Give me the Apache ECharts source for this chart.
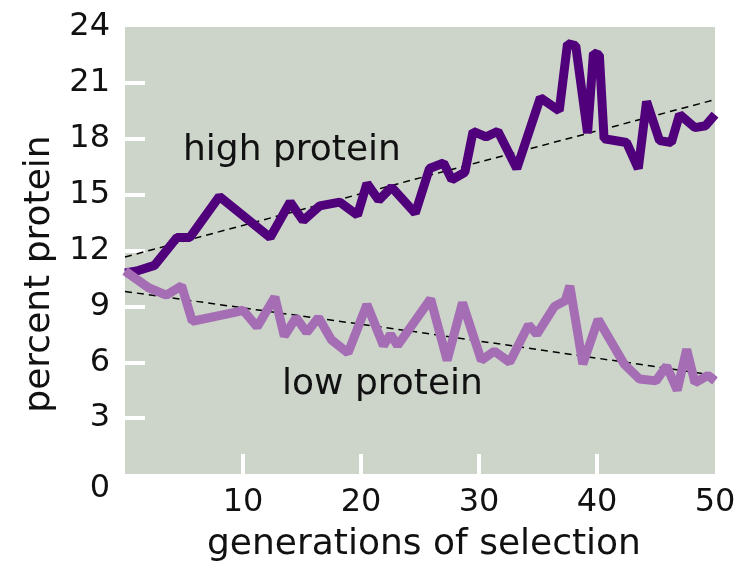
<!DOCTYPE html>
<html><head><meta charset="utf-8">
<script src="https://cdn.jsdelivr.net/npm/echarts@6/dist/echarts.min.js"></script>
<style>html,body{margin:0;padding:0;background:#fff}#c{width:741px;height:573px}</style>
</head><body><div id="c"></div>
<script>
// generations (x) and percent protein (y) at each visible vertex of the lines
const highGen = [0, 1, 2.5, 4.4, 5.5, 8, 12.3, 14, 15.1, 16.5, 18.2, 19.7, 20.5, 21.5, 22.6, 24.6, 25.8, 27, 27.7, 28.8, 29.5, 30.6, 31.6, 33.2, 35.2, 36.8, 37.5, 38.2, 39.2, 39.7, 40.2, 40.6, 42.5, 43.5, 44.2, 45.3, 46.3, 47, 48.3, 49.2, 50];
const highPct = [10.8, 10.9, 11.2, 12.7, 12.7, 14.9, 12.7, 14.6, 13.6, 14.4, 14.6, 13.9, 15.6, 14.7, 15.4, 14.0, 16.4, 16.7, 15.8, 16.2, 18.4, 18.1, 18.4, 16.4, 20.2, 19.5, 23.1, 23.0, 18.3, 22.6, 22.5, 18.0, 17.8, 16.4, 20.0, 17.9, 17.8, 19.3, 18.6, 18.7, 19.3];
const lowGen = [0, 2, 3.5, 4.8, 5.7, 9.5, 10, 11.2, 12.7, 13.5, 14.5, 15.4, 16.4, 17.5, 18.9, 20.5, 21.9, 22.5, 23.1, 25.9, 27.3, 28.6, 30.2, 31.3, 32.6, 34.2, 34.9, 36.4, 37.3, 37.7, 38.8, 40.1, 42.3, 43.6, 45, 45.9, 46.8, 47.6, 48.3, 49.4, 50];
const lowPct = [10.9, 10.0, 9.6, 10.1, 8.2, 8.7, 8.8, 7.9, 9.5, 7.4, 8.4, 7.6, 8.4, 7.2, 6.5, 9.1, 6.9, 7.5, 6.9, 9.4, 6.1, 9.2, 6.1, 6.6, 6.0, 8.0, 7.5, 9.0, 9.3, 10.1, 5.9, 8.3, 5.9, 5.1, 5.0, 5.8, 4.5, 6.7, 4.9, 5.3, 5.0];
// dashed trend lines
const highTrendGen = [0, 25, 50];
const highTrendPct = [11.65, 15.9, 20.1];
const lowTrendGen = [0, 25, 50];
const lowTrendPct = [9.8, 7.6, 5.3];
// ticks and labels
const yLabelValues = [0, 3, 6, 9, 12, 15, 18, 21, 24];
const yTickValues = [3, 6, 9, 12, 15, 18, 21];
const xLabelValues = [10, 20, 30, 40, 50];
const xTickValues = [10, 20, 30, 40];
const seriesNames = ['high protein', 'low protein'];
const xTitle = 'generations of selection';
const yTitle = 'percent protein';

const pairs = (xs, ys) => xs.map((x, i) => [x, ys[i]]);
const FONT = 'DejaVu Sans';
const tick = { show: true, inside: true, length: 20, lineStyle: { color: '#ffffff', width: 4 } };

const chart = echarts.init(document.getElementById('c'));
chart.setOption({
  animation: false,
  backgroundColor: '#ffffff',
  grid: { left: 125, top: 27, width: 590, height: 447, show: true, backgroundColor: '#cdd5cb', borderWidth: 0 },
  xAxis: [
    { type: 'value', min: 0, max: 50, position: 'bottom',
      axisLine: { show: false }, splitLine: { show: false },
      axisTick: Object.assign({ customValues: xTickValues }, tick),
      axisLabel: { customValues: xLabelValues, margin: 13, fontFamily: FONT, fontSize: 32, color: '#111' } },
    { type: 'value', min: 0, max: 50, position: 'top',
      axisLine: { show: false }, splitLine: { show: false },
      axisTick: Object.assign({ customValues: xTickValues }, tick),
      axisLabel: { show: false } }
  ],
  yAxis: [
    { type: 'value', min: 0, max: 24, position: 'left',
      axisLine: { show: false }, splitLine: { show: false },
      axisTick: Object.assign({ customValues: yTickValues }, tick),
      axisLabel: { customValues: yLabelValues, margin: 15, fontFamily: FONT, fontSize: 32, color: '#111',
        formatter: v => v === 0 ? '{z|0}' : String(v),
        rich: { z: { fontFamily: FONT, fontSize: 32, color: '#111', padding: [30, 0, 0, 0] } } } },
    { type: 'value', min: 0, max: 24, position: 'right',
      axisLine: { show: false }, splitLine: { show: false },
      axisTick: Object.assign({ customValues: yTickValues }, tick),
      axisLabel: { show: false } }
  ],
  series: [
    { type: 'line', name: 'high trend', data: pairs(highTrendGen, highTrendPct), showSymbol: false, z: 2,
      lineStyle: { color: '#000', width: 1.5, type: [7, 5] } },
    { type: 'line', name: 'low trend', data: pairs(lowTrendGen, lowTrendPct), showSymbol: false, z: 2,
      lineStyle: { color: '#000', width: 1.5, type: [7, 5] } },
    { type: 'line', name: seriesNames[0], data: pairs(highGen, highPct), showSymbol: false, z: 3,
      lineStyle: { color: '#50007a', width: 9 } },
    { type: 'line', name: seriesNames[1], data: pairs(lowGen, lowPct), showSymbol: false, z: 4,
      lineStyle: { color: '#a46db4', width: 9 } }
  ],
  graphic: [
    { type: 'text', left: 183, top: 133, z: 10, style: { text: seriesNames[0], font: '36px "DejaVu Sans"', fill: '#111' } },
    { type: 'text', left: 282, top: 367, z: 10, style: { text: seriesNames[1], font: '36px "DejaVu Sans"', fill: '#111' } },
    { type: 'text', left: 207, top: 527, z: 10, style: { text: xTitle, font: '36px "DejaVu Sans"', fill: '#111' } },
    { type: 'text', x: 40, y: 274, rotation: Math.PI / 2, z: 10,
      style: { text: yTitle, font: '36px "DejaVu Sans"', fill: '#111', align: 'center', verticalAlign: 'middle' } }
  ]
});
</script></body></html>
